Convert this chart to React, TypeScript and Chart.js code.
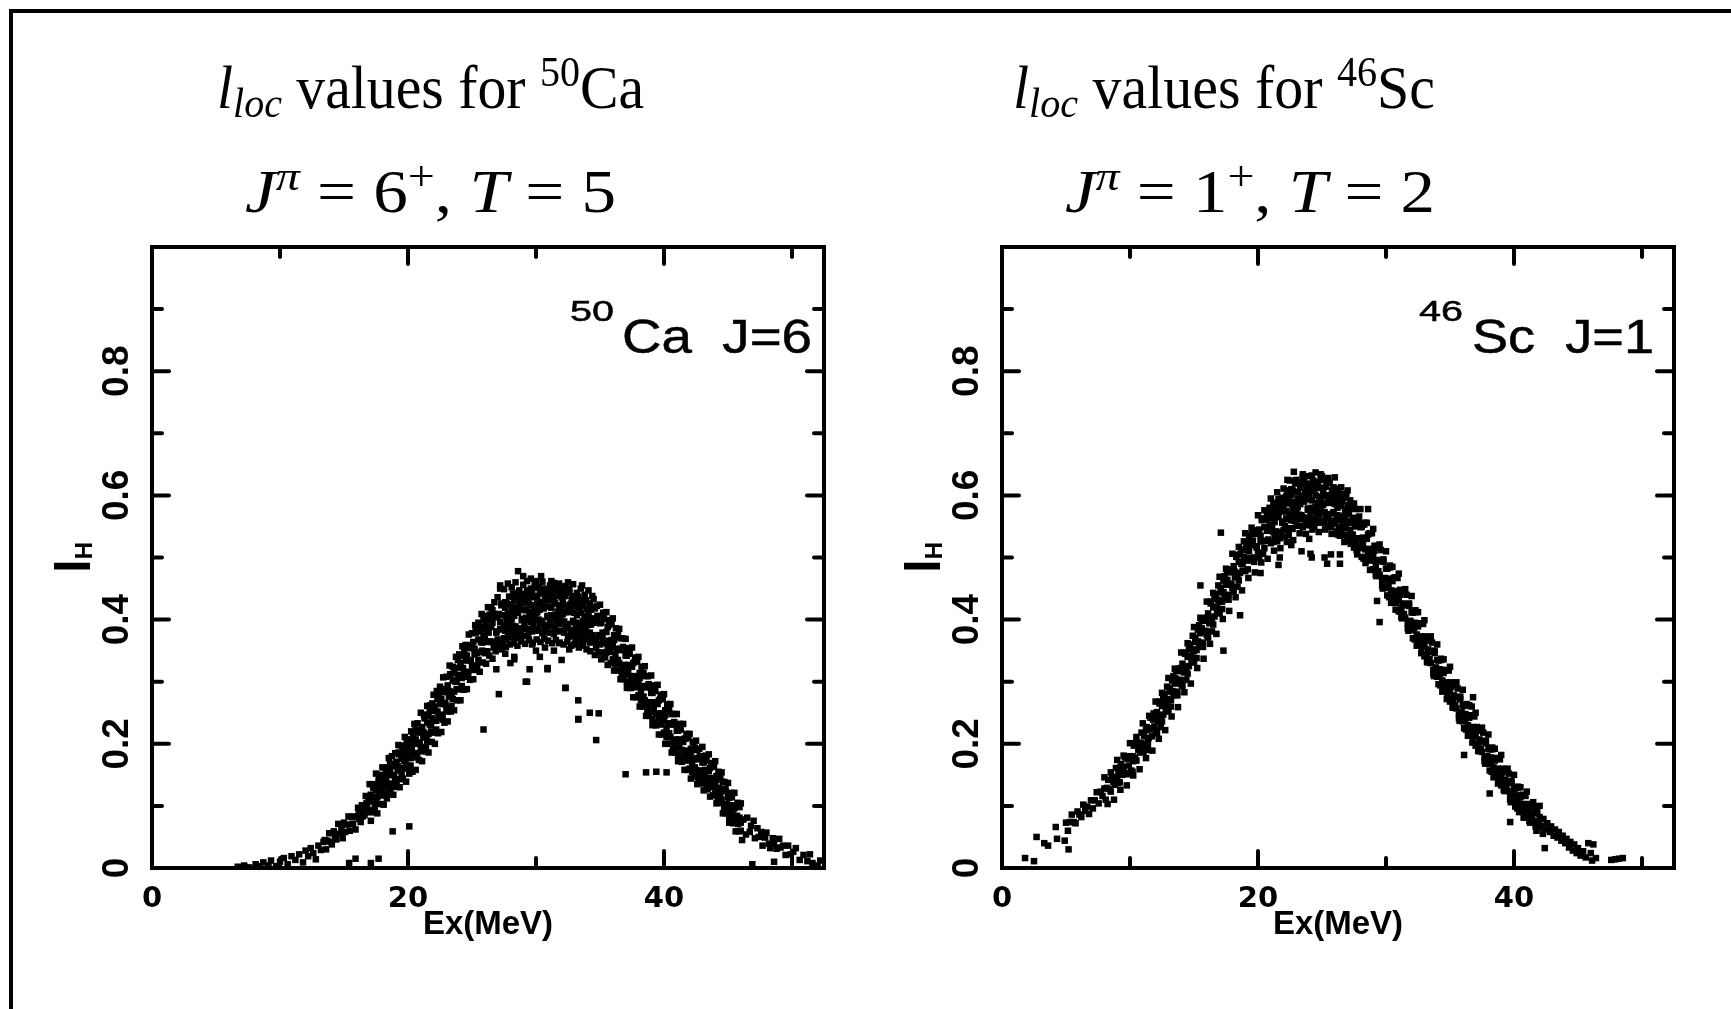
import React, { useEffect, useRef } from "react";
import { Chart, registerables } from "chart.js";
Chart.register(...registerables);

// ---------- axes ----------
const X_MIN = 0;
const X_MAX = 52.5;
const Y_MIN = 0;
const Y_MAX = 1;
const X_STEP = 10;
const Y_STEP = 0.1;
const xTickLabels = [0, 20, 40];
const yTickLabels = [0, 0.2, 0.4, 0.6, 0.8];
const xAxisTitle = "Ex(MeV)";
const yAxisTitleMain = "l";
const yAxisTitleSub = "H";

// ---------- text ----------
type Seg = { t: string; italic?: boolean; sub?: boolean; sup?: boolean };
const caHeading1: Seg[] = [{ t: "l", italic: true }, { t: "loc", italic: true, sub: true }, { t: " values for " }, { t: "50", sup: true }, { t: "Ca" }];
const caHeading2: Seg[] = [{ t: "J", italic: true }, { t: "π", italic: true, sup: true }, { t: " = 6" }, { t: "+", sup: true }, { t: ", " }, { t: "T", italic: true }, { t: " = 5" }];
const scHeading1: Seg[] = [{ t: "l", italic: true }, { t: "loc", italic: true, sub: true }, { t: " values for " }, { t: "46", sup: true }, { t: "Sc" }];
const scHeading2: Seg[] = [{ t: "J", italic: true }, { t: "π", italic: true, sup: true }, { t: " = 1" }, { t: "+", sup: true }, { t: ", " }, { t: "T", italic: true }, { t: " = 2" }];
const caTagSup = "50";
const caTagText = "Ca  J=6";
const scTagSup = "46";
const scTagText = "Sc  J=1";

// ---------- data: [Ex (MeV), l_H] ----------
const caPoints: [number, number][] = [
[6.7,.002],[7.2,.004],[7.6,.001],[8.1,.006],[8.4,.003],[8.7,.009],[9.1,.004],[9.3,.012],[9.7,.003],[10.0,.01],[10.3,.016],[10.6,.006],[10.9,.019],[11.2,.013],[11.5,.022],[11.8,.009],[12.0,.028],[12.2,.019],[12.4,.032],[12.6,.024],[12.8,.014],[13.0,.036],[13.2,.029],[13.4,.042],
[13.5,.045],[13.6,.03],[13.7,.044],[13.85,.056],[13.95,.042],[14.05,.038],[14.2,.059],[14.3,.052],[14.4,.046],[14.55,.071],[14.65,.055],[14.8,.064],[14.9,.048],[15.0,.073],[15.1,.058],[15.25,.07],[15.35,.083],[15.45,.06],[15.6,.082],[15.7,.071],[15.8,.083],[15.9,.062],[16.0,.082],
[16.1,.097],[16.2,.079],[16.3,.074],[16.4,.101],[16.5,.092],[16.6,.085],[16.7,.116],[16.8,.098],[16.9,.108],[16.15,.088],[16.45,.083],[16.75,.104],[16.85,.09],
[17.0,.113],[17.0,.093],[17.1,.09],[17.1,.118],[17.2,.113],[17.2,.107],[17.3,.129],[17.3,.131],[17.4,.11],[17.4,.096],[17.5,.104],[17.5,.125],[17.6,.135],[17.6,.114],[17.7,.125],[17.7,.141],[17.8,.117],[17.8,.125],[17.9,.15],[17.9,.133],
[18.0,.131],[18.0,.117],[18.1,.142],[18.1,.147],[18.2,.12],[18.2,.13],[18.3,.155],[18.3,.141],[18.4,.134],[18.4,.162],[18.5,.15],[18.5,.134],[18.6,.168],[18.6,.155],[18.7,.136],[18.7,.13],[18.8,.164],[18.8,.167],[18.9,.15],[18.9,.149],
[19.0,.167],[19.0,.143],[19.1,.137],[19.1,.171],[19.2,.164],[19.2,.157],[19.3,.183],[19.3,.186],[19.4,.159],[19.4,.143],[19.5,.151],[19.5,.176],[19.6,.186],[19.6,.161],[19.7,.173],[19.7,.192],[19.8,.162],[19.8,.172],[19.9,.202],[19.9,.182],
[20.0,.177],[20.0,.16],[20.1,.191],[20.1,.197],[20.2,.165],[20.2,.177],[20.3,.207],[20.3,.19],[20.4,.182],[20.4,.214],[20.5,.2],[20.5,.182],[20.6,.222],[20.6,.207],[20.7,.185],[20.7,.178],[20.8,.218],[20.8,.222],[20.9,.202],[20.9,.2],
[21.0,.221],[21.0,.193],[21.1,.188],[21.1,.227],[21.2,.219],[21.2,.21],[21.3,.241],[21.3,.244],[21.4,.214],[21.4,.195],[21.5,.205],[21.5,.234],[21.6,.245],[21.6,.216],[21.7,.231],[21.7,.253],[21.8,.22],[21.8,.231],[21.9,.265],[21.9,.241],
[22.0,.237],[22.0,.218],[22.1,.253],[22.1,.26],[22.2,.223],[22.2,.237],[22.3,.272],[22.3,.252],[22.4,.242],[22.4,.28],[22.5,.264],[22.5,.243],[22.6,.288],[22.6,.272],[22.7,.247],[22.7,.239],[22.8,.283],[22.8,.288],[22.9,.266],[22.9,.264],
[23.0,.287],[23.0,.257],[23.1,.252],[23.1,.294],[23.2,.285],[23.2,.276],[23.3,.31],[23.3,.312],[23.4,.28],[23.4,.261],[23.5,.272],[23.5,.302],[23.6,.314],[23.6,.284],[23.7,.3],[23.7,.322],[23.8,.288],[23.8,.3],[23.9,.335],[23.9,.311],
[24.0,.307],[24.0,.288],[24.1,.323],[24.1,.33],[24.2,.293],[24.2,.306],[24.3,.342],[24.3,.322],[24.4,.312],[24.4,.35],[24.5,.334],[24.5,.312],[24.6,.359],[24.6,.342],[24.7,.316],[24.7,.308],[24.8,.354],[24.8,.358],[24.9,.335],[24.9,.334],
[25.0,.358],[25.0,.326],[25.1,.319],[25.1,.364],[25.2,.353],[25.2,.344],[25.3,.379],[25.3,.382],[25.4,.346],[25.4,.326],[25.5,.335],[25.5,.368],[25.6,.381],[25.6,.348],[25.7,.364],[25.7,.389],[25.8,.35],[25.8,.363],[25.9,.4],[25.9,.374],
[26.0,.369],[26.0,.346],[26.1,.384],[26.1,.393],[26.2,.349],[26.2,.364],[26.3,.401],[26.3,.379],[26.4,.365],[26.4,.408],[26.5,.388],[26.5,.364],[26.6,.415],[26.6,.395],[26.7,.364],[26.7,.355],[26.8,.404],[26.8,.409],[26.9,.381],[26.9,.379],
[27.0,.404],[27.0,.368],[27.1,.359],[27.1,.409],[27.2,.396],[27.2,.385],[27.3,.423],[27.3,.426],[27.4,.384],[27.4,.361],
[27.5,.37],[27.5,.407],[27.5,.39],[27.6,.419],[27.6,.382],[27.6,.428],[27.7,.398],[27.7,.426],[27.7,.368],[27.8,.38],[27.8,.395],[27.8,.409],[27.9,.437],[27.9,.407],[27.9,.388],
[28.0,.398],[28.0,.373],[28.0,.425],[28.1,.415],[28.1,.424],[28.1,.401],[28.2,.372],[28.2,.39],[28.2,.442],[28.3,.432],[28.3,.406],[28.3,.382],[28.4,.389],[28.4,.439],[28.4,.419],[28.5,.414],[28.5,.386],[28.5,.37],[28.6,.443],[28.6,.421],[28.6,.411],[28.7,.384],[28.7,.374],[28.7,.426],[28.8,.428],[28.8,.434],[28.8,.38],[28.9,.401],[28.9,.399],[28.9,.441],
[29.0,.426],[29.0,.386],[29.0,.416],[29.1,.374],[29.1,.43],[29.1,.392],[29.2,.415],[29.2,.403],[29.2,.439],[29.3,.443],[29.3,.447],[29.3,.385],[29.4,.4],[29.4,.374],[29.4,.432],[29.5,.384],[29.5,.424],[29.5,.406],[29.6,.436],[29.6,.396],[29.6,.446],[29.7,.413],[29.7,.443],[29.7,.381],[29.8,.393],[29.8,.409],[29.8,.423],[29.9,.452],[29.9,.42],[29.9,.4],
[30.0,.41],[30.0,.384],[30.0,.438],[30.1,.426],[30.1,.436],[30.1,.412],[30.2,.382],[30.2,.4],[30.2,.452],[30.3,.442],[30.3,.416],[30.3,.392],[30.4,.398],[30.4,.448],[30.4,.428],[30.5,.422],[30.5,.394],[30.5,.378],[30.6,.45],[30.6,.428],[30.6,.418],[30.7,.39],[30.7,.38],[30.7,.432],[30.8,.434],[30.8,.44],[30.8,.386],[30.9,.406],[30.9,.404],[30.9,.446],
[31.0,.431],[31.0,.391],[31.0,.421],[31.1,.379],[31.1,.435],[31.1,.397],[31.2,.419],[31.2,.407],[31.2,.443],[31.3,.447],[31.3,.451],[31.3,.389],[31.4,.403],[31.4,.377],[31.4,.435],[31.5,.386],[31.5,.426],[31.5,.408],[31.6,.438],[31.6,.398],[31.6,.448],[31.7,.413],[31.7,.443],[31.7,.381],[31.8,.393],[31.8,.409],[31.8,.423],[31.9,.45],[31.9,.418],[31.9,.398],
[32.0,.408],[32.0,.382],[32.0,.436],[32.1,.423],[32.1,.433],[32.1,.409],[32.2,.379],[32.2,.397],[32.2,.449],[32.3,.438],[32.3,.412],[32.3,.388],[32.4,.393],[32.4,.443],[32.4,.423],[32.5,.416],[32.5,.388],[32.5,.372],[32.6,.444],[32.6,.422],[32.6,.412],[32.7,.383],[32.7,.373],[32.7,.425],[32.8,.426],[32.8,.432],[32.8,.378],[32.9,.398],[32.9,.396],[32.9,.438],
[33.0,.421],[33.0,.382],[33.0,.411],[33.1,.369],[33.1,.424],[33.1,.386],[33.2,.407],[33.2,.395],[33.2,.43],[33.3,.433],[33.3,.437],[33.3,.377],[33.4,.39],[33.4,.365],[33.4,.42],[33.5,.373],[33.5,.411],[33.5,.394],[33.6,.422],[33.6,.384],[33.6,.431],[33.7,.398],[33.7,.426],[33.7,.368],[33.8,.378],[33.8,.393],[33.8,.406],[33.9,.431],[33.9,.402],[33.9,.383],
[34.0,.391],[34.0,.368],[34.0,.417],[34.1,.404],[34.1,.413],[34.1,.392],[34.2,.363],[34.2,.379],[34.2,.426],[34.3,.416],[34.3,.392],[34.3,.371],[34.4,.375],[34.4,.42],[34.4,.402],
[28.6,.478],[29.0,.47],[29.6,.466],[30.4,.47],[31.2,.462],[32.5,.46],[27.2,.45],[33.6,.455],[30.0,.462],[31.8,.458],
[28.3,.34],[29.2,.3],[29.5,.32],[30.3,.34],[30.9,.322],[31.4,.35],[32.3,.29],[33.3,.27],[33.3,.24],[34.2,.25],[34.9,.249],[34.7,.206],[27.1,.28],[25.9,.223],[26.9,.32],[28.3,.336],[29.7,.36],[30.7,.355],[31.8,.362],[32.6,.352],[33.0,.36],[27.6,.345],[28.0,.33],[30.0,.35],[32.0,.335],
[34.5,.395],[34.5,.37],[34.6,.418],[34.6,.398],[34.7,.364],[34.7,.355],[34.8,.4],[34.8,.406],[34.9,.375],[34.9,.373],
[35.0,.394],[35.0,.36],[35.1,.347],[35.1,.395],[35.2,.379],[35.2,.369],[35.3,.401],[35.3,.405],[35.4,.362],[35.4,.34],[35.5,.347],[35.5,.38],[35.6,.388],[35.6,.355],[35.7,.366],[35.7,.391],[35.8,.348],[35.8,.361],[35.9,.393],[35.9,.367],
[36.0,.357],[36.0,.336],[36.1,.367],[36.1,.375],[36.2,.328],[36.2,.343],[36.3,.373],[36.3,.353],[36.4,.335],[36.4,.375],[36.5,.351],[36.5,.33],[36.6,.37],[36.6,.353],[36.7,.32],[36.7,.313],[36.8,.351],[36.8,.356],[36.9,.327],[36.9,.325],
[37.0,.342],[37.0,.312],[37.1,.3],[37.1,.342],[37.2,.327],[37.2,.318],[37.3,.345],[37.3,.348],[37.4,.309],[37.4,.29],[37.5,.294],[37.5,.324],[37.6,.33],[37.6,.3],[37.7,.309],[37.7,.332],[37.8,.291],[37.8,.303],[37.9,.332],[37.9,.308],
[38.0,.297],[38.0,.278],[38.1,.306],[38.1,.314],[38.2,.27],[38.2,.284],[38.3,.312],[38.3,.293],[38.4,.276],[38.4,.314],[38.5,.291],[38.5,.27],[38.6,.309],[38.6,.293],[38.7,.261],[38.7,.254],[38.8,.291],[38.8,.296],[38.9,.267],[38.9,.266],
[39.0,.282],[39.0,.252],[39.1,.24],[39.1,.282],[39.2,.267],[39.2,.258],[39.3,.285],[39.3,.288],[39.4,.249],[39.4,.23],[39.5,.234],[39.5,.264],[39.6,.27],[39.6,.24],[39.7,.249],[39.7,.272],[39.8,.231],[39.8,.243],[39.9,.272],[39.9,.248],
[40.0,.237],[40.0,.218],[40.1,.246],[40.1,.254],[40.2,.211],[40.2,.224],[40.3,.252],[40.3,.233],[40.4,.217],[40.4,.254],[40.5,.231],[40.5,.211],[40.6,.248],[40.6,.232],[40.7,.202],[40.7,.194],[40.8,.231],[40.8,.235],[40.9,.207],[40.9,.206],
[41.0,.221],[41.0,.193],[41.1,.182],[41.1,.221],[41.2,.207],[41.2,.198],[41.3,.223],[41.3,.226],[41.4,.19],[41.4,.171],[41.5,.176],[41.5,.203],[41.6,.208],[41.6,.181],[41.7,.189],[41.7,.209],[41.8,.173],[41.8,.183],[41.9,.209],[41.9,.187],
[42.0,.177],[42.0,.16],[42.1,.186],[42.1,.192],[42.2,.155],[42.2,.167],[42.3,.192],[42.3,.175],[42.4,.162],[42.4,.194],[42.5,.175],[42.5,.158],[42.6,.19],[42.6,.177],[42.7,.151],[42.7,.145],[42.8,.176],[42.8,.18],[42.9,.157],[42.9,.156],
[43.0,.17],[43.0,.145],[43.1,.136],[43.1,.17],[43.2,.158],[43.2,.151],[43.3,.173],[43.3,.176],[43.4,.144],[43.4,.127],[43.5,.132],[43.5,.156],[43.6,.161],[43.6,.137],[43.7,.145],[43.7,.163],[43.8,.13],[43.8,.14],[43.9,.163],[43.9,.144],
[44.0,.136],[44.0,.12],[44.1,.142],[44.1,.148],[44.2,.112],[44.2,.123],[44.3,.145],[44.3,.129],[44.4,.116],[44.4,.145],[44.5,.126],[44.5,.11],[44.6,.139],[44.6,.126],[44.7,.101],[44.7,.095],[44.8,.124],[44.8,.127],[44.9,.103],[44.9,.102],
[45.0,.114],[45.0,.092],[45.1,.082],[45.1,.113],[45.2,.101],[45.2,.095],[45.3,.114],[45.3,.116],[45.4,.086],[45.4,.072],[45.5,.075],[45.5,.096],[45.6,.1],[45.6,.079],[45.7,.084],[45.7,.1],[45.8,.071],[45.8,.079],[45.9,.098],[45.9,.081],[46.0,.073],[46.0,.06],
[46.2,.078],[46.4,.054],[46.5,.081],[46.7,.058],[46.8,.068],[47.0,.076],[47.1,.048],[47.3,.064],[47.4,.05],[47.6,.058],[47.7,.036],[47.9,.049],[48.0,.057],[48.2,.039],[48.3,.032],[48.5,.048],[48.6,.039],[48.8,.031],[49.0,.047],[49.1,.033],[49.3,.036],[49.5,.021],[49.7,.036],[49.9,.022],[50.1,.026],[50.3,.032],[50.6,.013],[50.9,.021],[51.2,.011],[51.4,.022],[51.6,.008],[52.0,.004],[52.2,.012],[46.9,.006],[48.6,.01],
[15.4,.008],[17.1,.008],[15.9,.015],[17.7,.015],[18.8,.059],[20.1,.067],[37.0,.151],[38.6,.154],[39.4,.155],[40.2,.154],[33.3,.239],[32.3,.29],[29.3,.3],[30.9,.32]
];

// outer points of the Ca band (its upper and lower edges)
const caEdgePoints: [number, number][] = [
[17,.135],[17.25,.135],[17.5,.152],[17.75,.148],[18,.162],[18.25,.161],[18.5,.177],[18.75,.18],[19,.185],[19.25,.198],[19.5,.197],[19.75,.211],[20,.207],[20.25,.22],[20.5,.232],[20.75,.233],[21,.25],[21.25,.247],[21.5,.261],[21.75,.262],[22,.279],[22.25,.285],[22.5,.292],[22.75,.307],[23,.308],[23.25,.326],[23.5,.324],[23.75,.34],[24,.344],[24.25,.357],[24.5,.359],[24.75,.376],[25,.378],[25.25,.391],[25.5,.395],[25.75,.409],[26,.406],[26.25,.42],[26.5,.419],[26.75,.428],[27,.436],
[17.1,.076],[17.35,.09],[17.6,.088],[17.85,.103],[18.1,.102],[18.35,.112],[18.6,.121],[18.85,.118],[19.1,.131],[19.35,.13],[19.6,.144],[19.85,.139],[20.1,.152],[20.35,.155],[20.6,.158],[20.85,.174],[21.1,.172],[21.35,.188],[21.6,.186],[21.85,.203],[22.1,.2],[22.35,.217],[22.6,.219],[22.85,.234],[23.1,.236],[23.35,.252],[23.6,.254],[23.85,.27],[24.1,.27],[24.35,.287],[24.6,.288],[24.85,.303],[25.1,.304],[25.35,.319],[25.6,.316],[25.85,.331],[26.1,.329],[26.35,.342],[26.6,.337],[26.85,.349],
[27.2,.455],[27.5,.449],[27.8,.458],[28.1,.452],[28.4,.46],[28.7,.447],[29.0,.456],[29.3,.462],[29.6,.45],[29.9,.457],[30.2,.453],[30.5,.461],[30.8,.448],[31.1,.455],[31.4,.459],[31.7,.451],[32.0,.446],[32.3,.454],[32.6,.449],[32.9,.457],[33.2,.443],[33.5,.45],[33.8,.44],[34.1,.447],[34.4,.438],
[27.35,.352],[27.65,.356],[27.95,.36],[28.25,.362],[28.55,.358],[28.85,.365],[29.15,.361],[29.45,.367],[29.75,.363],[30.05,.368],[30.35,.364],[30.65,.369],[30.95,.366],[31.25,.362],[31.55,.367],[31.85,.363],[32.15,.36],[32.45,.364],[32.75,.358],[33.05,.361],[33.35,.355],[33.65,.358],[33.95,.352],[34.25,.349],
[34.5,.433],[34.75,.422],[35,.424],[35.25,.411],[35.5,.412],[35.75,.399],[36,.402],[36.25,.386],[36.5,.385],[36.75,.37],[37,.369],[37.25,.354],[37.5,.355],[37.75,.339],[38,.34],[38.25,.324],[38.5,.325],[38.75,.309],[39,.31],[39.25,.294],[39.5,.295],[39.75,.279],[40,.28],[40.25,.264],[40.5,.264],[40.75,.248],[41,.248],[41.25,.232],[41.5,.232],[41.75,.216],[42,.216],[42.25,.203],[42.5,.205],[42.75,.192],[43,.195],[43.25,.181],[43.5,.183],[43.75,.169],[44,.172],[44.25,.155],[44.5,.154],[44.75,.138],[45,.137],[45.25,.121],[45.5,.121],[45.75,.105],[46,.104],
[34.6,.343],[34.85,.347],[35.1,.336],[35.35,.339],[35.6,.327],[35.85,.33],[36.1,.318],[36.35,.318],[36.6,.304],[36.85,.304],[37.1,.29],[37.35,.29],[37.6,.275],[37.85,.275],[38.1,.26],[38.35,.26],[38.6,.245],[38.85,.245],[39.1,.23],[39.35,.23],[39.6,.215],[39.85,.215],[40.1,.2],[40.35,.2],[40.6,.186],[40.85,.186],[41.1,.172],[41.35,.172],[41.6,.158],[41.85,.158],[42.1,.144],[42.35,.147],[42.6,.135],[42.85,.138],[43.1,.125],[43.35,.127],[43.6,.115],[43.85,.117],[44.1,.104],[44.35,.105],[44.6,.088],[44.85,.088],[45.1,.073],[45.35,.073],[45.6,.059],[45.85,.059],[46.1,.045]
];

const scPoints: [number, number][] = [
[1.8,.016],[2.5,.011],[2.7,.05],[3.3,.04],[3.6,.036],[4.2,.066],[4.3,.047],[4.9,.044],[5.2,.03],
[5.0,.073],[5.15,.06],[5.3,.074],[5.45,.086],[5.6,.074],[5.75,.072],[5.9,.091],[6.05,.086],[6.2,.082],[6.35,.102],[6.5,.092],[6.65,.099],[6.8,.087],[6.95,.109],[7.1,.096],[7.25,.109],[7.4,.122],[7.55,.104],[7.7,.123],[7.85,.116],
[8.0,.128],[8.1,.11],[8.2,.129],[8.3,.142],[8.4,.127],[8.5,.123],[8.6,.147],[8.7,.139],[8.8,.134],[8.9,.161],[9.0,.145],[9.1,.154],[9.2,.138],[9.3,.167],[9.4,.15],[9.5,.163],[9.6,.178],[9.7,.153],[9.8,.176],[9.9,.165],
[10.0,.18],[10.1,.157],[10.2,.18],[10.3,.197],[10.4,.178],[10.5,.173],[10.6,.202],[10.7,.193],[10.8,.186],[10.9,.218],[11.0,.2],[11.1,.212],[11.2,.191],[11.3,.227],[11.4,.206],[11.5,.223],[11.6,.242],[11.7,.212],[11.8,.239],[11.9,.228],
[9.05,.137],[9.25,.162],[9.45,.154],[9.65,.179],[9.85,.151],[10.05,.18],[10.25,.172],[10.45,.201],[10.65,.19],[10.85,.201],[11.05,.187],[11.25,.222],[11.45,.209],[11.65,.225],[11.85,.249],
[12.0,.245],[12.0,.221],[12.1,.217],[12.1,.251],[12.2,.244],[12.2,.237],[12.3,.265],[12.3,.268],[12.4,.243],[12.4,.227],[12.5,.236],[12.5,.261],[12.6,.272],[12.6,.247],[12.7,.261],[12.7,.28],[12.8,.252],[12.8,.262],[12.9,.292],[12.9,.272],
[13.0,.27],[13.0,.253],[13.1,.284],[13.1,.29],[13.2,.26],[13.2,.271],[13.3,.302],[13.3,.285],[13.4,.278],[13.4,.309],[13.5,.297],[13.5,.279],[13.6,.319],[13.6,.305],[13.7,.284],[13.7,.278],[13.8,.317],[13.8,.321],[13.9,.303],[13.9,.302],
[14.0,.322],[14.0,.296],[14.1,.293],[14.1,.329],[14.2,.323],[14.2,.315],[14.3,.345],[14.3,.347],[14.4,.32],[14.4,.303],[14.5,.313],[14.5,.34],[14.6,.352],[14.6,.325],[14.7,.34],[14.7,.36],[14.8,.331],[14.8,.341],[14.9,.374],[14.9,.352],
[15.0,.349],[15.0,.332],[15.1,.364],[15.1,.371],[15.2,.338],[15.2,.351],[15.3,.383],[15.3,.365],[15.4,.357],[15.4,.391],[15.5,.378],[15.5,.358],[15.6,.401],[15.6,.386],[15.7,.363],[15.7,.356],[15.8,.398],[15.8,.402],[15.9,.382],[15.9,.381],
[16.0,.403],[16.0,.375],[16.1,.371],[16.1,.41],[16.2,.403],[16.2,.394],[16.3,.426],[16.3,.429],[16.4,.4],[16.4,.381],[16.5,.392],[16.5,.42],[16.6,.433],[16.6,.405],[16.7,.42],[16.7,.441],[16.8,.41],[16.8,.421],[16.9,.455],[16.9,.432],
[17.0,.429],[17.0,.411],[17.1,.444],[17.1,.451],[17.2,.417],[17.2,.429],[17.3,.463],[17.3,.444],[17.4,.435],[17.4,.47],[17.5,.456],[17.5,.436],[17.6,.48],[17.6,.464],[17.7,.44],[17.7,.432],[17.8,.476],[17.8,.48],[17.9,.458],[17.9,.457],
[18.0,.48],[18.0,.451],[18.1,.445],[18.1,.486],[18.2,.477],[18.2,.468],[18.3,.501],[18.3,.504],[18.4,.472],[18.4,.453],[18.5,.463],[18.5,.493],[18.6,.505],[18.6,.475],[18.7,.49],[18.7,.513],[18.8,.479],[18.8,.491],[18.9,.526],[18.9,.501],
[19.0,.497],[19.0,.478],[19.1,.512],[19.1,.52],[19.2,.481],[19.2,.495],[19.3,.529],[19.3,.51],[19.4,.499],[19.4,.537],[19.5,.52],[19.5,.499],[19.6,.544],[19.6,.527],[19.7,.5],[19.7,.493],[19.8,.538],[19.8,.542],[19.9,.518],[19.9,.516],
[20.0,.54],[20.0,.508],[20.1,.5],[20.1,.545],[20.2,.535],[20.2,.526],[20.3,.56],[20.3,.563],[20.4,.526],[20.4,.506],[20.5,.515],[20.5,.549],[20.6,.561],[20.6,.527],[20.7,.543],[20.7,.569],[20.8,.529],[20.8,.543],[20.9,.58],[20.9,.553],
[21.0,.546],[21.0,.523],[21.0,.572],[21.1,.563],[21.1,.572],[21.1,.55],[21.2,.525],[21.2,.541],[21.2,.588],[21.3,.58],[21.3,.557],[21.3,.535],[21.4,.542],[21.4,.588],[21.4,.57],[21.5,.566],[21.5,.541],[21.5,.526],[21.6,.594],[21.6,.574],[21.6,.565],[21.7,.541],[21.7,.531],[21.7,.58],[21.8,.583],[21.8,.589],[21.8,.537],[21.9,.558],[21.9,.556],[21.9,.596],
[22.0,.584],[22.0,.544],[22.0,.574],[22.1,.533],[22.1,.589],[22.1,.551],[22.2,.575],[22.2,.563],[22.2,.599],[22.3,.604],[22.3,.608],[22.3,.546],[22.4,.562],[22.4,.536],[22.4,.594],[22.5,.547],[22.5,.587],[22.5,.569],[22.6,.6],[22.6,.56],[22.6,.61],[22.7,.578],[22.7,.608],[22.7,.546],[22.8,.559],[22.8,.575],[22.8,.589],[22.9,.619],[22.9,.587],[22.9,.567],
[23.0,.578],[23.0,.552],[23.0,.606],[23.1,.595],[23.1,.605],[23.1,.581],[23.2,.551],[23.2,.569],[23.2,.621],[23.3,.612],[23.3,.586],[23.3,.562],[23.4,.568],[23.4,.618],[23.4,.598],[23.5,.593],[23.5,.565],[23.5,.549],[23.6,.622],[23.6,.6],[23.6,.59],[23.7,.562],[23.7,.552],[23.7,.604],[23.8,.607],[23.8,.613],[23.8,.559],[23.9,.579],[23.9,.577],[23.9,.619],
[24.0,.604],[24.0,.564],[24.0,.594],[24.1,.552],[24.1,.608],[24.1,.57],[24.2,.592],[24.2,.58],[24.2,.616],[24.3,.62],[24.3,.624],[24.3,.562],[24.4,.576],[24.4,.55],[24.4,.608],[24.5,.56],[24.5,.6],[24.5,.582],[24.6,.612],[24.6,.572],[24.6,.622],[24.7,.588],[24.7,.618],[24.7,.556],[24.8,.568],[24.8,.584],[24.8,.598],[24.9,.626],[24.9,.594],[24.9,.574],
[25.0,.584],[25.0,.558],[25.0,.612],[25.1,.599],[25.1,.609],[25.1,.585],[25.2,.555],[25.2,.573],[25.2,.625],[25.3,.614],[25.3,.588],[25.3,.564],[25.4,.57],[25.4,.62],[25.4,.6],[25.5,.593],[25.5,.565],[25.5,.549],[25.6,.62],[25.6,.598],[25.6,.588],[25.7,.559],[25.7,.549],[25.7,.601],[25.8,.602],[25.8,.608],[25.8,.554],[25.9,.573],[25.9,.571],[25.9,.613],
[26.0,.596],[26.0,.556],[26.0,.586],[26.1,.542],[26.1,.598],[26.1,.56],[26.2,.58],[26.2,.568],[26.2,.604],[26.3,.607],[26.3,.611],[26.3,.549],[26.4,.561],[26.4,.535],[26.4,.593],[26.5,.544],[26.5,.583],[26.5,.565],[26.6,.592],[26.6,.553],[26.6,.602],[26.7,.567],[26.7,.596],[26.7,.536],[26.8,.547],[26.8,.562],[26.8,.576],[26.9,.6],[26.9,.57],[26.9,.551],
[27.0,.558],[27.0,.534],[27.0,.584],[27.1,.57],[27.1,.579],[27.1,.557],[27.2,.527],[27.2,.544],[27.2,.592],[27.3,.58],[27.3,.556],[27.3,.534],[27.4,.537],[27.4,.582],[27.4,.564],[27.5,.555],[27.5,.53],[27.5,.516],[27.6,.578],[27.6,.559],[27.6,.55],[27.7,.521],[27.7,.512],[27.7,.559],[27.8,.558],[27.8,.563],[27.8,.516],[27.9,.531],[27.9,.529],[27.9,.566],
[22.8,.638],[24.2,.632],[23.5,.63],[24.9,.634],[22.3,.625],
[24.1,.506],[25.2,.5],[25.7,.505],[26.4,.505],[24.2,.5],[25.4,.49],[26.4,.49],[21.6,.488],[20.2,.475],[24.0,.53],[22.6,.52],[23.4,.51],[21.7,.5],[18.6,.407],[17.3,.35],[15.5,.455],[17.1,.54],[28.6,.578],[29.5,.396],[29.3,.43],
[28.0,.549],[28.0,.515],[28.1,.501],[28.1,.549],[28.2,.532],[28.2,.522],[28.3,.553],[28.3,.556],[28.4,.513],[28.4,.491],[28.5,.497],[28.5,.53],[28.6,.537],[28.6,.504],[28.7,.514],[28.7,.539],[28.8,.495],[28.8,.508],[28.9,.539],[28.9,.513],
[29.0,.502],[29.0,.481],[29.1,.511],[29.1,.519],[29.2,.472],[29.2,.487],[29.3,.517],[29.3,.496],[29.4,.478],[29.4,.518],[29.5,.494],[29.5,.472],[29.6,.512],[29.6,.495],[29.7,.462],[29.7,.454],[29.8,.493],[29.8,.497],[29.9,.467],[29.9,.466],
[30.0,.482],[30.0,.451],[30.1,.439],[30.1,.482],[30.2,.466],[30.2,.457],[30.3,.484],[30.3,.487],[30.4,.447],[30.4,.427],[30.5,.431],[30.5,.462],[30.6,.467],[30.6,.437],[30.7,.446],[30.7,.468],[30.8,.427],[30.8,.439],[30.9,.467],[30.9,.443],
[31.0,.432],[31.0,.413],[31.1,.44],[31.1,.448],[31.2,.404],[31.2,.418],[31.3,.445],[31.3,.426],[31.4,.409],[31.4,.447],[31.5,.423],[31.5,.403],[31.6,.44],[31.6,.424],[31.7,.393],[31.7,.386],[31.8,.422],[31.8,.426],[31.9,.398],[31.9,.396],
[32.0,.412],[32.0,.383],[32.1,.37],[32.1,.411],[32.2,.395],[32.2,.386],[32.3,.412],[32.3,.415],[32.4,.376],[32.4,.358],[32.5,.361],[32.5,.389],[32.6,.394],[32.6,.366],[32.7,.373],[32.7,.394],[32.8,.356],[32.8,.367],[32.9,.393],[32.9,.37],
[33.0,.359],[33.0,.341],[33.1,.366],[33.1,.373],[33.2,.332],[33.2,.344],[33.3,.37],[33.3,.352],[33.4,.336],[33.4,.37],[33.5,.348],[33.5,.33],[33.6,.363],[33.6,.348],[33.7,.319],[33.7,.312],[33.8,.346],[33.8,.35],[33.9,.323],[33.9,.321],
[34.0,.335],[34.0,.308],[34.1,.296],[34.1,.334],[34.2,.32],[34.2,.312],[34.3,.335],[34.3,.337],[34.4,.302],[34.4,.284],[34.5,.287],[34.5,.314],[34.6,.318],[34.6,.291],[34.7,.299],[34.7,.319],[34.8,.282],[34.8,.292],[34.9,.318],[34.9,.296],
[35.0,.285],[35.0,.268],[35.1,.292],[35.1,.299],[35.2,.259],[35.2,.272],[35.3,.296],[35.3,.278],[35.4,.263],[35.4,.297],[35.5,.275],[35.5,.257],[35.6,.289],[35.6,.275],[35.7,.247],[35.7,.241],[35.8,.272],[35.8,.276],[35.9,.251],[35.9,.25],
[36.0,.262],[36.0,.236],[36.1,.225],[36.1,.261],[36.2,.248],[36.2,.24],[36.3,.262],[36.3,.264],[36.4,.23],[36.4,.213],[36.5,.217],[36.5,.242],[36.6,.245],[36.6,.22],[36.7,.227],[36.7,.246],[36.8,.211],[36.8,.221],[36.9,.244],[36.9,.224],
[37.0,.214],[37.0,.197],[37.1,.221],[37.1,.227],[37.2,.189],[37.2,.2],[37.3,.224],[37.3,.207],[37.4,.192],[37.4,.223],[37.5,.204],[37.5,.187],[37.6,.218],[37.6,.204],[37.7,.178],[37.7,.172],[37.8,.201],[37.8,.205],[37.9,.18],[37.9,.179],
[38.0,.192],[38.0,.168],[38.1,.157],[38.1,.191],[38.2,.178],[38.2,.171],[38.3,.191],[38.3,.194],[38.4,.162],[38.4,.146],[38.5,.15],[38.5,.173],[38.6,.177],[38.6,.154],[38.7,.16],[38.7,.177],[38.8,.145],[38.8,.154],[38.9,.175],[38.9,.156],
[39.0,.148],[39.0,.133],[39.1,.154],[39.1,.16],[39.2,.126],[39.2,.136],[39.3,.157],[39.3,.142],[39.4,.129],[39.4,.157],[39.5,.139],[39.5,.124],[39.6,.152],[39.6,.14],[39.7,.116],[39.7,.11],[39.8,.137],[39.8,.14],[39.9,.119],[39.9,.118],
[40.0,.128],[40.0,.107],[40.1,.099],[40.1,.128],[40.2,.117],[40.2,.111],[40.3,.129],[40.3,.131],[40.4,.104],[40.4,.09],[40.5,.094],[40.5,.114],[40.6,.117],[40.6,.097],[40.7,.103],[40.7,.118],[40.8,.09],[40.8,.098],[40.9,.116],[40.9,.1],
[41.0,.093],[41.0,.081],[41.1,.099],[41.1,.103],[41.2,.076],[41.2,.084],[41.3,.102],[41.3,.09],[41.4,.079],[41.4,.103],[41.5,.089],[41.5,.076],[41.6,.099],[41.6,.089],[41.7,.07],[41.7,.066],[41.8,.088],[41.8,.091],[41.9,.074],[41.9,.073],[42.0,.082],[42.0,.065],
[42.2,.068],[42.3,.079],[42.5,.062],[42.6,.072],[42.8,.058],[42.9,.067],[43.1,.052],[43.2,.062],[43.4,.049],[43.5,.058],[43.7,.044],[43.8,.052],[44.0,.04],[44.1,.047],[44.3,.033],[44.4,.042],[44.6,.028],[44.7,.038],[44.9,.024],[45.0,.032],[45.2,.02],[45.4,.027],[45.6,.017],[45.8,.04],[46.0,.024],[46.2,.038],[46.1,.012],[46.4,.016],[47.6,.013],[47.9,.014],[48.2,.015],[48.5,.016],
[36.1,.182],[39.7,.074],[42.4,.032],[38.1,.12],[36.8,.275],[36.7,.26],[12.1,.217],[11.4,.196],[11.3,.19],[10.2,.155]
];

// outer points of the Sc band (its upper and lower edges)
const scEdgePoints: [number, number][] = [
[8,.146],[8.5,.154],[9,.174],[9.5,.181],[10,.201],[10.5,.211],[11,.233],[11.5,.245],[12,.268],[12.5,.282],[13,.306],[13.5,.321],[14,.347],[14.5,.362],[15,.388],[15.5,.403],[16,.429],[16.5,.443],[17,.469],[17.5,.482],[18,.506],[18.5,.517],[19,.539],[19.5,.548],[20,.568],[20.5,.576],[21,.595],[21.5,.605],[22,.611],[22.5,.624],[23,.625],[23.5,.634],[24,.631],[24.5,.637],[25,.631],[25.5,.628],[26,.629],[26.5,.613],[27,.608],[27.5,.587],[28,.578],[28.5,.556],[29,.546],[29.5,.521],[30,.51],[30.5,.485],[31,.474],[31.5,.449],[32,.438],[32.5,.412],[33,.399],[33.5,.373],[34,.36],[34.5,.336],[35,.324],[35.5,.299],[36,.287],[36.5,.262],[37,.25],[37.5,.226],[38,.215],[38.5,.192],[39,.182],[39.5,.16],[40,.15],[40.5,.13],[41,.123],[41.5,.106],[42,.1],
[8.25,.103],[8.75,.11],[9.25,.126],[9.75,.133],[10.25,.149],[10.75,.159],[11.25,.177],[11.75,.189],[12.25,.208],[12.75,.222],[13.25,.244],[13.75,.259],[14.25,.283],[14.75,.297],[15.25,.322],[15.75,.337],[16.25,.361],[16.75,.377],[17.25,.401],[17.75,.414],[18.25,.436],[18.75,.447],[19.25,.467],[19.75,.476],[20.25,.492],[20.75,.498],[21.25,.511],[21.75,.515],[22.25,.525],[22.75,.528],[23.25,.539],[23.75,.538],[24.25,.545],[24.75,.541],[25.25,.545],[25.75,.538],[26.25,.537],[26.75,.525],[27.25,.522],[27.75,.505],[28.25,.498],[28.75,.48],[29.25,.47],[29.75,.45],[30.25,.436],[30.75,.416],[31.25,.402],[31.75,.382],[32.25,.368],[32.75,.346],[33.25,.331],[33.75,.309],[34.25,.294],[34.75,.272],[35.25,.258],[35.75,.237],[36.25,.223],[36.75,.202],[37.25,.188],[37.75,.168],[38.25,.155],[38.75,.136],[39.25,.124],[39.75,.106],[40.25,.096],[40.75,.081],[41.25,.073],[41.75,.06],[42.25,.055]
];

// ---------- layout (positions/sizes, not data) ----------
const PAGE_W = 1731;
const PAGE_H = 1009;
const CANVAS_W = 860;
const AREA = { left: 152, right: 824, top: 247, bottom: 868 };
const SERIF = '"Liberation Serif", "Times New Roman", serif';
const SANS = '"Liberation Sans", Arial, sans-serif';

type PanelSpec = {
  points: [number, number][];
  heading1: Seg[];
  heading2: Seg[];
  h1: [number, number];
  h2: [number, number];
  tagSup: string;
  tagText: string;
  tagSupX: [number, number];
  tagTextX: [number, number];
};

function drawRich(ctx: CanvasRenderingContext2D, segs: Seg[], x0: number, x1: number, baseline: number, size: number) {
  const fontFor = (s: Seg) => `${s.italic ? "italic " : ""}normal ${s.sub || s.sup ? Math.round(size * 0.7) : size}px ${SERIF}`;
  let total = 0;
  const widths = segs.map((s) => {
    ctx.font = fontFor(s);
    const w = ctx.measureText(s.t).width;
    total += w;
    return w;
  });
  ctx.save();
  ctx.translate(x0, baseline);
  ctx.scale((x1 - x0) / total, 1);
  ctx.textAlign = "left";
  ctx.textBaseline = "alphabetic";
  ctx.fillStyle = "#000";
  let cx = 0;
  segs.forEach((s, i) => {
    ctx.font = fontFor(s);
    const dy = s.sub ? size * 0.14 : s.sup ? -size * 0.36 : 0;
    ctx.fillText(s.t, cx, dy);
    cx += widths[i];
  });
  ctx.restore();
}

function drawFitted(ctx: CanvasRenderingContext2D, text: string, font: string, x0: number, x1: number, baseline: number) {
  ctx.save();
  ctx.font = font;
  const w = ctx.measureText(text).width;
  ctx.translate(x0, baseline);
  ctx.scale((x1 - x0) / w, 1);
  ctx.textAlign = "left";
  ctx.textBaseline = "alphabetic";
  ctx.fillStyle = "#000";
  ctx.strokeStyle = "#000";
  ctx.lineWidth = 0.5;
  ctx.fillText(text, 0, 0);
  ctx.strokeText(text, 0, 0);
  ctx.restore();
}

const near = (v: number, step: number) => Math.abs(v / step - Math.round(v / step)) < 1e-6;

function makeDecor(p: PanelSpec) {
  return {
    id: "decor",
    afterDatasetsDraw(chart: any) {
      const { ctx, chartArea: a, scales } = chart;
      const xs = scales.x;
      const ys = scales.y;
      ctx.save();
      ctx.strokeStyle = "#000";
      ctx.lineWidth = 4;
      ctx.lineCap = "round";
      const seg = (x1: number, y1: number, x2: number, y2: number) => {
        ctx.beginPath();
        ctx.moveTo(x1, y1);
        ctx.lineTo(x2, y2);
        ctx.stroke();
      };
      xs.ticks.forEach((t: any) => {
        const px = xs.getPixelForValue(t.value);
        if (px <= a.left + 2 || px >= a.right - 2) return;
        const len = near(t.value, 20) ? 17 : 10;
        seg(px, a.bottom, px, a.bottom - len);
        seg(px, a.top, px, a.top + len);
      });
      ys.ticks.forEach((t: any) => {
        const py = ys.getPixelForValue(t.value);
        if (py <= a.top + 2 || py >= a.bottom - 2) return;
        const len = near(t.value, 0.2) ? 17 : 10;
        seg(a.left, py, a.left + len, py);
        seg(a.right, py, a.right - len, py);
      });
      ctx.lineCap = "butt";
      ctx.lineJoin = "miter";
      ctx.strokeRect(a.left, a.top, a.right - a.left, a.bottom - a.top);
      ctx.restore();
    },
    afterDraw(chart: any) {
      const { ctx, chartArea: a } = chart;
      ctx.save();
      drawRich(ctx, p.heading1, p.h1[0], p.h1[1], 108, 62);
      drawRich(ctx, p.heading2, p.h2[0], p.h2[1], 212, 62);
      drawFitted(ctx, p.tagSup, `normal 29px ${SANS}`, p.tagSupX[0], p.tagSupX[1], 321);
      drawFitted(ctx, p.tagText, `normal 48px ${SANS}`, p.tagTextX[0], p.tagTextX[1], 353);
      // y axis title: l with subscript H, rotated
      ctx.translate(90, (a.top + a.bottom) / 2);
      ctx.rotate(-Math.PI / 2);
      ctx.fillStyle = "#000";
      ctx.textBaseline = "alphabetic";
      ctx.textAlign = "left";
      ctx.font = `bold 50px ${SANS}`;
      const wl = ctx.measureText(yAxisTitleMain).width;
      ctx.font = `bold 24px ${SANS}`;
      const wh = ctx.measureText(yAxisTitleSub).width;
      const start = -(wl + wh) / 2;
      ctx.font = `bold 50px ${SANS}`;
      ctx.fillText(yAxisTitleMain, start, 0);
      ctx.font = `bold 24px ${SANS}`;
      ctx.fillText(yAxisTitleSub, start + wl, 2);
      ctx.restore();
    },
  };
}

function Panel({ spec, left }: { spec: PanelSpec; left: number }) {
  const ref = useRef<HTMLCanvasElement | null>(null);
  useEffect(() => {
    const canvas = ref.current;
    if (!canvas) return;
    const chart = new Chart(canvas, {
      type: "scatter",
      data: {
        datasets: [
          {
            data: spec.points.map(([x, y]) => ({ x, y })),
            pointStyle: "rect",
            pointRadius: 4.6,
            pointHoverRadius: 4.6,
            backgroundColor: "#000",
            borderWidth: 0,
          },
        ],
      },
      options: {
        animation: false,
        responsive: false,
        devicePixelRatio: 1,
        events: [],
        layout: { padding: { left: 0, right: CANVAS_W - AREA.right, top: AREA.top, bottom: 0 } },
        plugins: { legend: { display: false }, tooltip: { enabled: false }, title: { display: false } },
        scales: {
          x: {
            type: "linear",
            position: "bottom",
            min: X_MIN,
            max: X_MAX,
            grid: { display: false, drawTicks: false },
            border: { display: false },
            ticks: {
              stepSize: X_STEP,
              includeBounds: false,
              autoSkip: false,
              minRotation: 0,
              maxRotation: 0,
              padding: 14,
              color: "#000",
              font: { family: '"DejaVu Sans", sans-serif', weight: "bold", size: 29 },
              callback: (v: any) => {
                const hit = xTickLabels.find((t) => Math.abs(t - Number(v)) < 1e-6);
                return hit === undefined ? "" : String(hit);
              },
            },
            title: {
              display: true,
              text: xAxisTitle,
              color: "#000",
              font: { family: SANS, weight: "bold", size: 33 },
              padding: { top: 0, bottom: 64 },
            },
            afterFit: (s: any) => {
              s.height = PAGE_H - AREA.bottom;
            },
          },
          y: {
            type: "linear",
            position: "left",
            min: Y_MIN,
            max: Y_MAX,
            grid: { display: false, drawTicks: false },
            border: { display: false },
            ticks: {
              stepSize: Y_STEP,
              autoSkip: false,
              minRotation: 90,
              maxRotation: 90,
              crossAlign: "center",
              padding: 8,
              color: "#000",
              font: { family: SANS, weight: "bold", size: 37 },
              callback: (v: any) => {
                const hit = yTickLabels.find((t) => Math.abs(t - Number(v)) < 1e-6);
                return hit === undefined ? "" : String(hit);
              },
            },
            afterFit: (s: any) => {
              s.width = AREA.left;
            },
          },
        },
      } as any,
      plugins: [makeDecor(spec)],
    });
    return () => chart.destroy();
  }, [spec]);
  return (
    <canvas
      ref={ref}
      width={CANVAS_W}
      height={PAGE_H}
      style={{ position: "absolute", left, top: 0, width: CANVAS_W, height: PAGE_H }}
    />
  );
}

const caSpec: PanelSpec = {
  points: caPoints.concat(caEdgePoints),
  heading1: caHeading1,
  heading2: caHeading2,
  h1: [217, 644],
  h2: [245, 616],
  tagSup: caTagSup,
  tagText: caTagText,
  tagSupX: [570, 614],
  tagTextX: [622, 812],
};

const scSpec: PanelSpec = {
  points: scPoints.concat(scEdgePoints),
  heading1: scHeading1,
  heading2: scHeading2,
  h1: [163, 585],
  h2: [215, 585],
  tagSup: scTagSup,
  tagText: scTagText,
  tagSupX: [569, 613],
  tagTextX: [622, 804],
};

export default function App() {
  return (
    <div style={{ position: "fixed", left: 0, top: 0, width: PAGE_W, height: PAGE_H, overflow: "hidden", background: "#fff" }}>
      <div style={{ position: "absolute", left: 9, top: 9, width: 3000, height: 3000, borderLeft: "4px solid #000", borderTop: "4px solid #000" }} />
      <Panel spec={caSpec} left={0} />
      <Panel spec={scSpec} left={850} />
    </div>
  );
}
